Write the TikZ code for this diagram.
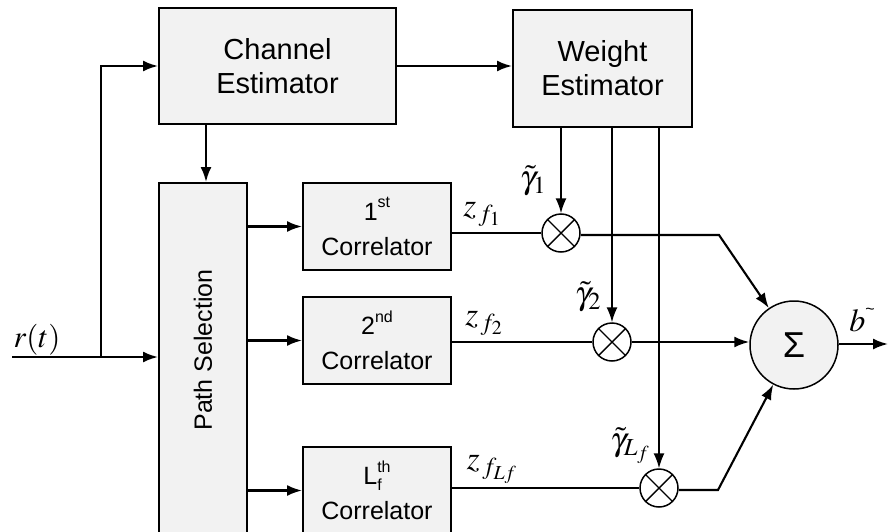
\documentclass[tikz,border=0pt]{standalone}
\usepackage{mathptmx}
\usepackage{fontspec}
\setmainfont{Liberation Sans}
\usetikzlibrary{arrows.meta}
\newcommand{\upidx}[1]{\raisebox{0.5em}{\fontsize{16}{16}\selectfont #1}}
\newcommand{\lowidx}[1]{\raisebox{-0.22em}{\fontsize{16}{16}\selectfont #1}}
\begin{document}
\begin{tikzpicture}[x=1pt,y=-1pt,
  blk/.style={draw, line width=2pt, fill=black!5, align=center, inner sep=0pt},
  big/.style={font=\fontsize{29}{34}\selectfont},
  cor/.style={blk, minimum width=148pt, minimum height=87pt, font=\fontsize{25}{35}\selectfont},
  mul/.style={draw, circle, line width=1.5pt, fill=white, minimum size=38pt, inner sep=0pt,
    path picture={\draw[line width=1.4pt] (path picture bounding box.north west) -- (path picture bounding box.south east)
      (path picture bounding box.south west) -- (path picture bounding box.north east);}},
  arr/.style={-{Latex[length=15pt,width=11pt]}},
  thk/.style={line width=2.1pt},
  thn/.style={line width=1.5pt},
  mlab/.style={inner sep=0pt, font=\fontsize{33}{36}\selectfont}
]
\useasboundingbox (0,0) rectangle (888,532);
\clip (0,0) rectangle (888,532);
\fill[white] (0,0) rectangle (888,532);

% blocks
\node[blk, big, minimum width=237pt, minimum height=116pt] (ce) at (277.5,66) {Channel\\Estimator};
\node[blk, big, minimum width=179pt, minimum height=117pt] (we) at (602.5,68.5) {Weight\\Estimator};
\node[blk, minimum width=88pt, minimum height=351pt] (ps) at (203,358.5) {};
\node[rotate=90, inner sep=0pt, font=\fontsize{25}{30}\selectfont] (pstext) at (203,350) {Path Selection};
\node[cor] (c1) at (377,226.5) {1\upidx{st}\\Correlator};
\node[cor] (c2) at (377,340.5) {2\upidx{nd}\\Correlator};
\node[cor] (c3) at (377,490.5) {L\rlap{\lowidx{f}}\upidx{th}\\Correlator};

% multipliers and summer
\node[mul] (m1) at (561,233) {};
\node[mul] (m2) at (612,342) {};
\node[mul] (m3) at (659,488) {};
\node[draw, circle, line width=1.5pt, fill=black!5, minimum size=88pt, inner sep=0pt,
  font=\fontsize{36}{36}\selectfont] (sig) at (794,345) {Σ};

% coordinates
\coordinate (in) at (12,357);
\coordinate (br) at (101,357);
\coordinate (k1) at (719,235);
\coordinate (k3) at (718,490);
\coordinate (out) at (888,344);

% input
\draw[thk, arr] (in) -- (br) -- (ps.west |- br);
\draw[thk, arr] (br) -- (br |- ce.west) -- (ce.west);
\draw[thk, arr] (ce.east) -- (we.west |- ce.east);
\draw[thk, arr] (ce.south -| 206,0) -- (ps.north -| 206,0);

% path selection to correlators
\draw[thk, arr] (ps.east |- c1.west) -- (c1.west);
\draw[thk, arr] (ps.east |- c2.west) -- (c2.west);
\draw[thk, arr] (ps.east |- c3.west) -- (c3.west);

% weights
\draw[thn, arr] (we.south -| m1) -- (m1.north);
\draw[thn, arr] (we.south -| m2) -- (m2.north);
\draw[thn, arr] (we.south -| m3) -- (m3.north);

% correlator outputs
\draw[thn] (c1.east |- m1) -- (m1.west);
\draw[thn] (c2.east |- m2) -- (m2.west);
\draw[thn] (c3.east |- m3) -- (m3.west);

% to summer
\draw[thk, arr] (m1.east |- k1) -- (k1) -- (sig);
\draw[thk, arr] (m2.east) -- (sig.west |- m2);
\draw[thk, arr] (m3.east |- k3) -- (k3) -- (sig);
\draw[thk, arr] (sig.east |- out) -- (out);

% labels
\node[mlab, font=\fontsize{31}{34}\selectfont] (lr) at (37,340) {$r(t)$};
\node[mlab] (lz1) at (482,214) {$z_{\,f_1}$};
\node[mlab] (lz2) at (484,323) {$z_{\,f_2}$};
\node[mlab] (lz3) at (492,469) {$z_{\,f_{Lf}}$};
\node[mlab] (lg1) at (533,181) {$\tilde{\gamma}_1$};
\node[mlab] (lg2) at (588,297) {$\tilde{\gamma}_2$};
\node[mlab] (lg3) at (630,446) {$\tilde{\gamma}_{L_f}$};
\node[mlab, font=\fontsize{32}{32}\selectfont] (lb) at (862,320) {$b$\raisebox{0.55em}{\fontsize{16}{16}\selectfont\textasciitilde}};
\end{tikzpicture}
\end{document}
